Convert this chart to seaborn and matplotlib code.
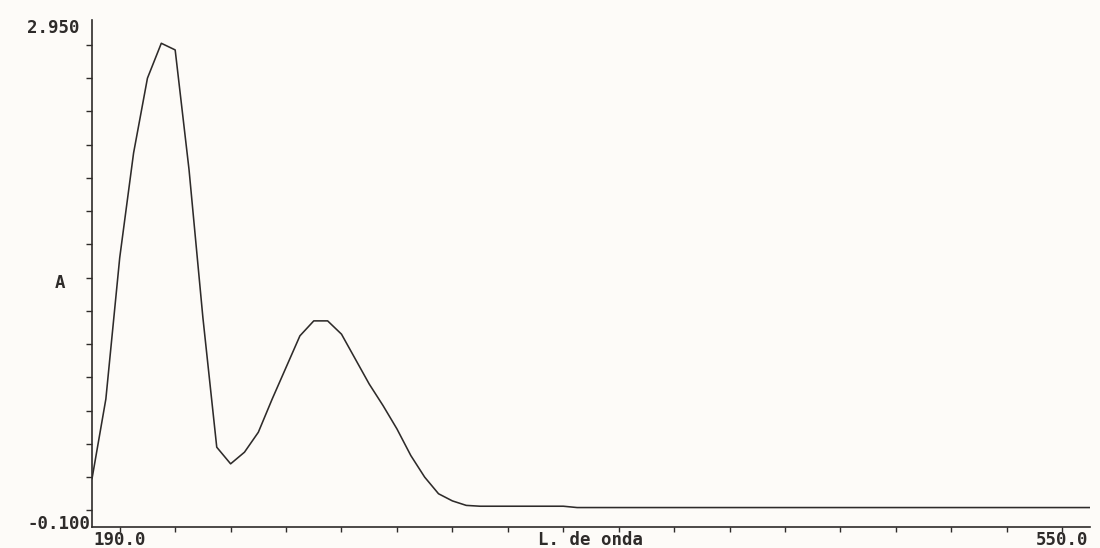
import matplotlib
matplotlib.use("Agg")
import matplotlib.pyplot as plt
import seaborn as sns
import pandas as pd

# ---- data (5 nm sampling) ----
wavelength = list(range(190, 551, 5))
absorbance = [
    0.19, 0.67, 1.52, 2.15, 2.60, 2.81, 2.77, 2.05, 1.16, 0.38,
    0.28, 0.35, 0.47, 0.67, 0.86, 1.05, 1.14, 1.14, 1.06, 0.91,
    0.76, 0.63, 0.49, 0.33, 0.20, 0.10, 0.057, 0.030,
    0.025, 0.025, 0.025, 0.025, 0.025, 0.025, 0.025,
    0.017, 0.017, 0.017, 0.017, 0.017, 0.017, 0.017, 0.017, 0.017, 0.017,
    0.017, 0.017, 0.017, 0.017, 0.017, 0.017, 0.017, 0.017, 0.017, 0.017,
    0.017, 0.017, 0.017, 0.017, 0.017, 0.017, 0.017, 0.017, 0.017, 0.017,
    0.017, 0.017, 0.017, 0.017, 0.017, 0.017, 0.017, 0.017,
]
x_range = [190.0, 550.0]
y_range = [-0.100, 2.950]
x_minor_ticks = list(range(200, 541, 20))
y_minor_ticks = [0.0, 0.2, 0.4, 0.6, 0.8, 1.0, 1.2, 1.4, 1.6, 1.8, 2.0, 2.2, 2.4, 2.6, 2.8]
x_label = "L. de onda"
y_label = "A"

df = pd.DataFrame({"wl": wavelength, "A": absorbance})

sns.set_style("white")
plt.rcParams["font.family"] = ["DejaVu Sans Mono"]

ink = "#2e2b2a"
bg = "#fdfbf8"

fig = plt.figure(figsize=(11, 5.48), dpi=100, facecolor=bg)
ax = fig.add_axes([92 / 1100, 1 - 527 / 548, 998 / 1100, 507 / 548])
ax.set_facecolor(bg)

sns.lineplot(data=df, x="wl", y="A", ax=ax, color=ink, linewidth=1.15)

ax.set_xlim(*x_range)
ax.set_ylim(*y_range)

for s in ["top", "right"]:
    ax.spines[s].set_visible(False)
for s in ["left", "bottom"]:
    ax.spines[s].set_color(ink)
    ax.spines[s].set_linewidth(1.2)

ax.set_xticks([])
ax.set_yticks([])
ax.set_xticks(x_minor_ticks, minor=True)
ax.set_yticks(y_minor_ticks, minor=True)
ax.tick_params(axis="x", which="minor", bottom=True, top=False, direction="out",
               length=3.5, width=1.0, color=ink, labelbottom=False)
ax.tick_params(axis="y", which="minor", left=True, right=False, direction="out",
               length=4, width=1.0, color=ink, labelleft=False)
ax.set_xlabel("")
ax.set_ylabel("")

font = dict(fontsize=12.5, fontweight="bold", color=ink, family="DejaVu Sans Mono")

ytr = ax.get_yaxis_transform()
xtr = ax.get_xaxis_transform()
ax.annotate(f"{y_range[1]:.3f}", xy=(0, y_range[1]), xycoords=ytr, xytext=(-12, -8),
            textcoords="offset pixels", ha="right", va="center", annotation_clip=False, **font)
ax.annotate(f"{y_range[0]:.3f}", xy=(0, y_range[0]), xycoords=ytr, xytext=(-2, 3),
            textcoords="offset pixels", ha="right", va="center", annotation_clip=False, **font)
ax.annotate(f"{x_range[0]:.1f}", xy=(x_range[0], 0), xycoords=xtr, xytext=(1, -13),
            textcoords="offset pixels", ha="left", va="center", annotation_clip=False, **font)
ax.annotate(f"{x_range[1]:.1f}", xy=(x_range[1], 0), xycoords=xtr, xytext=(-2, -13),
            textcoords="offset pixels", ha="right", va="center", annotation_clip=False, **font)
ax.annotate(x_label, xy=(0.5, 0), xycoords="axes fraction", xytext=(0, -18),
            textcoords="offset pixels", ha="center", va="baseline", annotation_clip=False, **font)
ax.annotate(y_label, xy=(0, 0.481), xycoords="axes fraction", xytext=(-32, 0),
            textcoords="offset pixels", ha="center", va="center", annotation_clip=False, **font)

fig.savefig("out.png", dpi=100, facecolor=bg)
